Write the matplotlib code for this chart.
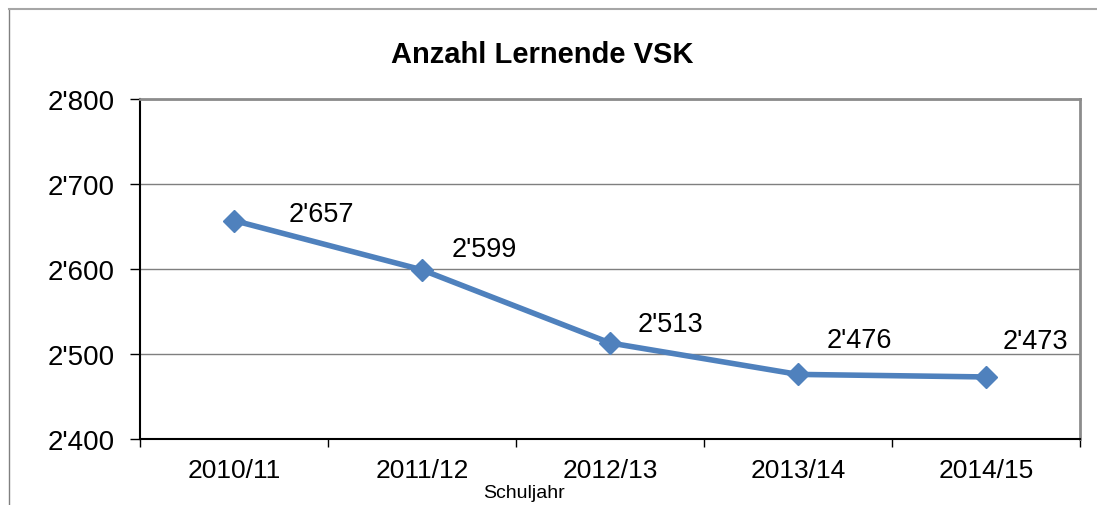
import matplotlib
matplotlib.use("Agg")
import matplotlib.pyplot as plt
from matplotlib.lines import Line2D
from matplotlib.ticker import FixedLocator, FuncFormatter

plt.rcParams['font.family'] = ['Liberation Sans', 'DejaVu Sans']

categories = ["2010/11", "2011/12", "2012/13", "2013/14", "2014/15"]
values = [2657, 2599, 2513, 2476, 2473]
y_ticks = [2400, 2500, 2600, 2700, 2800]
title = "Anzahl Lernende VSK"
xlabel = "Schuljahr"

# label offsets in pixels (dx, dy) relative to each point
label_offsets = [(55, 7), (30, 21), (28, 19), (29, 34), (17, 36)]

def fmt(v, pos=None):
    s = f"{int(v):,}"
    return s.replace(",", "'")

W, H = 1097, 506
fig = plt.figure(figsize=(W / 100, H / 100), dpi=100)
ax = fig.add_axes([140 / W, 1 - 440 / H, 940 / W, 340 / H])

xs = list(range(len(categories)))
color = "#4F81BD"
ax.plot(xs, values, color=color, lw=4, marker="D", markersize=11,
        markerfacecolor=color, markeredgecolor=color, zorder=3, clip_on=False)

for x, v, (dx, dy) in zip(xs, values, label_offsets):
    ax.annotate(fmt(v), (x, v), xytext=(dx * 0.72, dy * 0.72),
                textcoords="offset points", ha="left", va="center",
                fontsize=19.5, color="black")

ax.set_xlim(-0.5, len(categories) - 0.5)
ax.set_ylim(y_ticks[0], y_ticks[-1])
ax.yaxis.set_major_locator(FixedLocator(y_ticks))
ax.yaxis.set_major_formatter(FuncFormatter(fmt))
ax.set_xticks(xs)
ax.set_xticklabels(categories)
ax.set_xticks([i - 0.5 for i in range(len(categories) + 1)], minor=True)
ax.tick_params(axis="x", which="major", length=0, pad=14, labelsize=19)
ax.tick_params(axis="x", which="minor", length=6, width=1, color="black")
ax.tick_params(axis="y", length=7, width=1, color="black", labelsize=20, pad=11)

ax.grid(axis="y", color="#7f7f7f", lw=1)
ax.set_axisbelow(True)
for s in ["left", "bottom"]:
    ax.spines[s].set_color("black")
    ax.spines[s].set_linewidth(1.5)
for s in ["top", "right"]:
    ax.spines[s].set_color("#8c8c8c")
    ax.spines[s].set_linewidth(2)

fig.text(542 / W, 1 - 55 / H, title, ha="center", va="center",
         fontsize=21, fontweight="bold")
fig.text(524 / W, 1 - 494 / H, xlabel, ha="center", va="center", fontsize=14)

# outer chart border (top and left)
fig.add_artist(Line2D([9 / W, 9 / W], [0, 1 - 10 / H], transform=fig.transFigure,
                      color="#808080", lw=1))
fig.add_artist(Line2D([9 / W, 1], [1 - 10 / H, 1 - 10 / H], transform=fig.transFigure,
                      color="#a6a6a6", lw=1.5))

fig.savefig("out.png", dpi=100)
